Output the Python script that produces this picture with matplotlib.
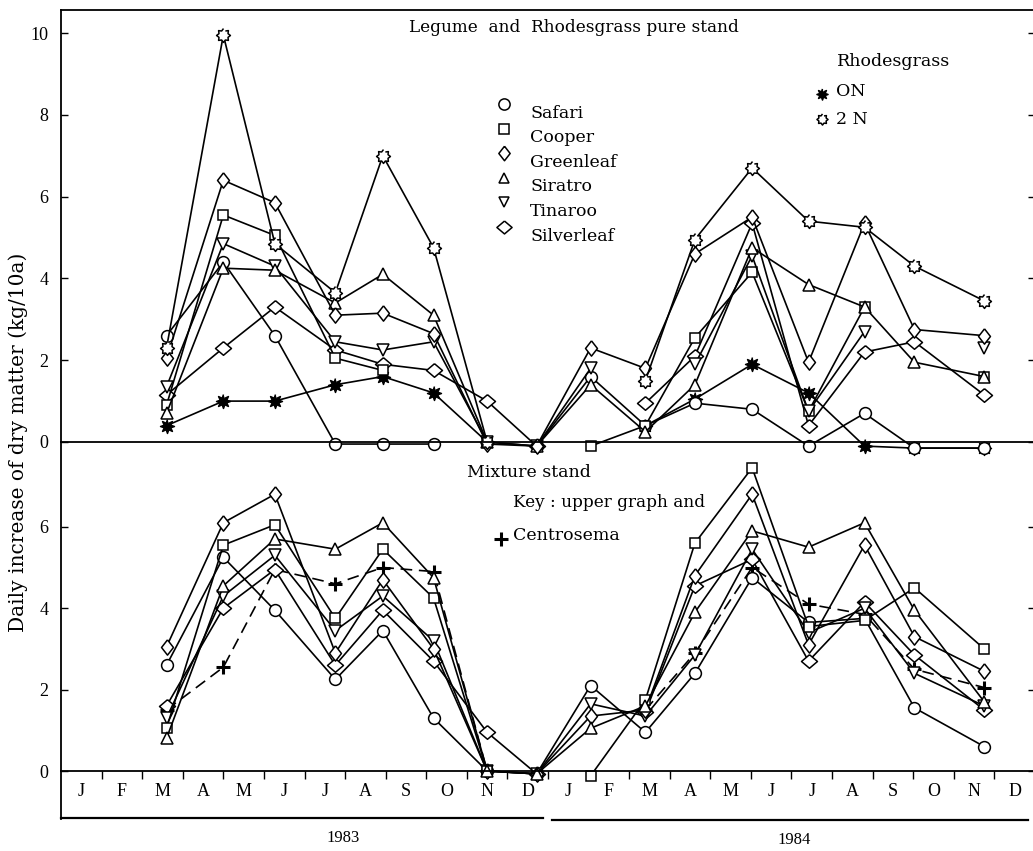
import numpy as np
import matplotlib.pyplot as plt
from matplotlib.lines import Line2D

plt.rcParams['font.family'] = ['Liberation Serif', 'DejaVu Serif']
TXT = ['DejaVu Serif']

nan = np.nan
W, H = 1033, 851

# sampling dates, in months counted from 1 Jan 1983
sample_month = [2.6, 4.0, 5.27, 6.76, 7.93, 9.18, 10.5, 11.72,
                13.05, 14.4, 15.62, 17.03, 18.42, 19.8, 21.03, 22.75]

month_labels = ['J', 'F', 'M', 'A', 'M', 'J', 'J', 'A', 'S', 'O', 'N', 'D'] * 2
years = ['1983', '1984']

# daily increase of dry matter, legume and rhodesgrass pure stand (kg/10a)
safari_p = [2.6, 4.4, 2.6, -0.05, -0.05, -0.05, nan, -0.1, 1.6, 0.4, 0.95, 0.8, -0.1, 0.7, -0.15, -0.15]
cooper_p = [0.9, 5.55, 5.05, 2.05, 1.75, nan, 0.0, nan, -0.1, 0.4, 2.55, 4.15, 0.75, 3.3, nan, 1.6]
greenleaf_p = [2.05, 6.4, 5.85, 3.1, 3.15, 2.65, -0.05, -0.1, 2.3, 1.8, 4.6, 5.5, 1.95, 5.35, 2.75, 2.6]
siratro_p = [0.7, 4.25, 4.2, 3.4, 4.1, 3.1, 0.0, -0.1, 1.4, 0.25, 1.4, 4.75, 3.85, 3.3, 1.95, 1.6]
tinaroo_p = [1.35, 4.85, 4.3, 2.45, 2.25, 2.45, 0.0, -0.1, 1.8, nan, 1.9, 4.55, 0.75, 2.7, nan, 2.3]
silverleaf_p = [1.15, 2.3, 3.3, 2.25, 1.9, 1.75, 1.0, -0.1, nan, 0.95, 2.1, 5.35, 0.4, 2.2, 2.45, 1.15]
rhodes_0n = [0.4, 1.0, 1.0, 1.4, 1.6, 1.2, 0.0, nan, nan, 0.4, 1.05, 1.9, 1.2, -0.1, -0.15, -0.15]
rhodes_2n = [2.3, 9.95, 4.85, 3.65, 7.0, 4.75, 0.0, nan, nan, 1.5, 4.95, 6.7, 5.4, 5.25, 4.3, 3.45]

# mixture stand
safari_m = [2.6, 5.25, 3.95, 2.25, 3.45, 1.3, 0.0, -0.07, 2.1, 0.95, 2.4, 4.75, 3.65, 3.75, 1.55, 0.6]
cooper_m = [1.05, 5.55, 6.05, 3.75, 5.45, 4.25, 0.0, nan, -0.12, 1.75, 5.6, 7.45, 3.55, 3.7, 4.5, 3.0]
greenleaf_m = [3.05, 6.1, 6.8, 2.9, 4.7, 3.0, 0.0, -0.07, 1.35, 1.5, 4.8, 6.8, 3.1, 5.55, 3.3, 2.45]
siratro_m = [0.8, 4.55, 5.7, 5.45, 6.1, 4.75, 0.0, -0.07, 1.05, 1.6, 3.9, 5.9, 5.5, 6.1, 3.95, 1.7]
tinaroo_m = [1.3, 4.3, 5.3, 3.45, 4.3, 3.2, 0.0, -0.07, 1.65, 1.35, 2.85, 5.45, 3.4, 4.0, 2.4, 1.6]
silverleaf_m = [1.6, 4.0, 4.95, 2.6, 3.95, 2.7, 0.95, -0.07, nan, 1.45, 4.55, 5.2, 2.7, 4.15, 2.85, 1.5]
centrosema_m = [1.5, 2.55, 4.95, 4.6, 5.0, 4.9, 0.0, nan, nan, 1.5, 2.9, 5.0, 4.1, 3.85, 2.5, 2.05]


def star(n, inner):
    ang = np.linspace(0, 2 * np.pi, 2 * n, endpoint=False) + np.pi / 2
    r = np.where(np.arange(2 * n) % 2 == 0, 1.0, inner)
    return list(zip(r * np.cos(ang), r * np.sin(ang)))


sty = {
    'Safari': dict(marker='o', ms=8.5),
    'Cooper': dict(marker='s', ms=7.5),
    'Greenleaf': dict(marker=[(0, 1), (0.78, 0), (0, -1), (-0.78, 0), (0, 1)], ms=11),
    'Siratro': dict(marker='^', ms=8),
    'Tinaroo': dict(marker='v', ms=8),
    'Silverleaf': dict(marker=[(0, 0.85), (1, 0), (0, -0.85), (-1, 0), (0, 0.85)], ms=11.5),
    'ON': dict(marker=star(8, 0.5), ms=10, mfc='k'),
    '2 N': dict(marker=star(8, 0.7), ms=10),
    'Centrosema': dict(marker='+', ms=10, mew=2.2),
}

fig = plt.figure(figsize=(W / 100, H / 100), dpi=100)
x0, x1 = 61 / W, 1035 / W
ax2 = fig.add_axes([x0, 1 - 771 / H, x1 - x0, (771 - 442) / H])
ax1 = fig.add_axes([x0, 1 - 442 / H, x1 - x0, (442 - 10) / H])
ax1.patch.set_visible(False)
ax2.patch.set_visible(False)


def draw(ax, y, name, ls='-'):
    kw = dict(color='k', lw=1.2, mfc='white', mec='k', mew=1.1)
    kw.update(sty[name])
    ax.plot(sample_month, y, ls=ls, clip_on=False, **kw)


for y, name in [(rhodes_0n, 'ON'), (silverleaf_p, 'Silverleaf'), (safari_p, 'Safari'),
                (cooper_p, 'Cooper'), (tinaroo_p, 'Tinaroo'), (siratro_p, 'Siratro'),
                (greenleaf_p, 'Greenleaf'), (rhodes_2n, '2 N')]:
    draw(ax1, y, name)

draw(ax2, centrosema_m, 'Centrosema', ls=(0, (7, 4)))
for y, name in [(safari_m, 'Safari'), (silverleaf_m, 'Silverleaf'), (tinaroo_m, 'Tinaroo'),
                (greenleaf_m, 'Greenleaf'), (cooper_m, 'Cooper'), (siratro_m, 'Siratro')]:
    draw(ax2, y, name)

ax1.set_ylim(0, (442 - 10) / 40.9)
ax2.set_ylim(0, (771 - 442) / 40.7)
for ax in (ax1, ax2):
    ax.set_xlim(0, 24)
    ax.tick_params(axis='y', direction='in', length=5, width=1, right=True,
                   labelsize=13, pad=9)
    for s in ax.spines.values():
        s.set_linewidth(1.3)
ax1.set_yticks([0, 2, 4, 6, 8, 10])
ax2.set_yticks([0, 2, 4, 6])
ax1.set_xticks([])
ax2.spines['top'].set_visible(False)

# month boundaries and month letters
ax2.set_xticks(range(1, 24))
ax2.set_xticklabels([])
ax2.set_xticks(np.arange(24) + 0.5, minor=True)
ax2.set_xticklabels(month_labels, minor=True, fontsize=13)
ax2.tick_params(axis='x', which='major', direction='out', length=6, width=1)
ax2.tick_params(axis='x', which='minor', length=0, pad=9)

# year brackets under the month row
fig.add_artist(Line2D([x0, x0], [1 - 771 / H, 1 - 819 / H], color='k', lw=1.3))
fig.add_artist(Line2D([x0, 543 / W], [1 - 818 / H] * 2, color='k', lw=1.6))
fig.add_artist(Line2D([552 / W, 1028 / W], [1 - 820 / H] * 2, color='k', lw=1.6))
fig.text(343 / W, 1 - 838 / H, years[0], ha='center', va='center', fontsize=12)
fig.text(794 / W, 1 - 840 / H, years[1], ha='center', va='center', fontsize=12)

fig.text(18 / W, 1 - 442 / H, 'Daily increase of dry matter (kg/10a)', rotation=90,
         ha='center', va='center', fontsize=14.5, family=TXT)

# panel titles and keys
fig.text(574 / W, 1 - 27 / H, 'Legume  and  Rhodesgrass pure stand', ha='center',
         va='center', fontsize=12.2, family=TXT)
for i, name in enumerate(['Safari', 'Cooper', 'Greenleaf', 'Siratro', 'Tinaroo', 'Silverleaf']):
    yk = 1 - (104 + 24.6 * i) / H
    kw = dict(sty[name])
    kw['ms'] = kw['ms'] * 0.95
    fig.add_artist(Line2D([504 / W], [yk], color='k', mfc='white', mec='k', mew=1.1, **kw))
    fig.text(530 / W, 1 - (113 + 24.6 * i) / H, name, va='center', fontsize=12.5, family=TXT)

fig.text(837 / W, 1 - 62 / H, 'Rhodesgrass', va='center', fontsize=12.5, family=TXT)
for i, name in enumerate(['ON', '2 N']):
    kw = dict(mfc='white', mec='k', mew=1.1)
    kw.update(sty[name])
    kw['ms'] = 8
    fig.add_artist(Line2D([822 / W], [1 - (94 + 25 * i) / H], color='k', **kw))
    fig.text(836 / W, 1 - (91 + 28 * i) / H, name, va='center', fontsize=12.5, family=TXT)

fig.text(467 / W, 1 - 472 / H, 'Mixture stand', va='center', fontsize=12.5, family=TXT)
fig.text(513 / W, 1 - 503 / H, 'Key : upper graph and', va='center', fontsize=12.2, family=TXT)
fig.add_artist(Line2D([501 / W], [1 - 539 / H], color='k', **sty['Centrosema']))
fig.text(513 / W, 1 - 535 / H, 'Centrosema', va='center', fontsize=12.5, family=TXT)

fig.savefig('out.png', dpi=100)
